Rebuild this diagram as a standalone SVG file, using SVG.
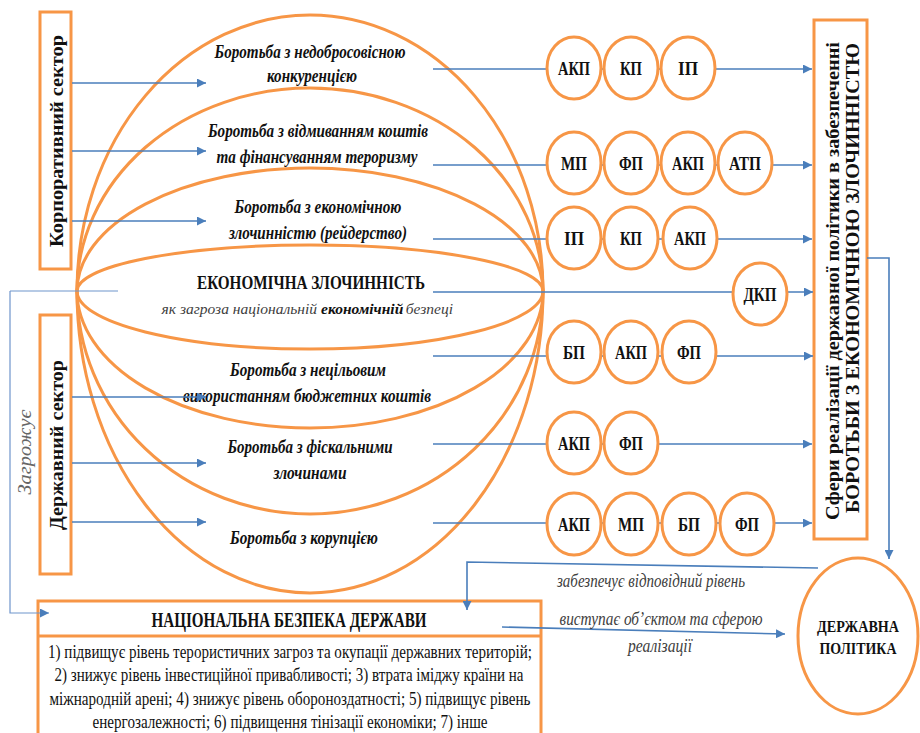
<svg xmlns="http://www.w3.org/2000/svg" width="920" height="733" viewBox="0 0 920 733" font-family="'Liberation Serif', 'Times New Roman', serif">
<style>
.arc{fill:none;stroke:#F79646;stroke-width:3}
.box{fill:#fff;stroke:#F79646;stroke-width:3}
.c{fill:#fff;stroke:#F79646;stroke-width:3}
.ln{fill:none;stroke:#4A7EBB;stroke-width:1.6}
.ln2{fill:none;stroke:#6F95CC;stroke-width:1.2}
text{font-family:"Liberation Serif","Times New Roman",serif;fill:#111}
.bi{font-weight:bold;font-style:italic;font-size:18px;text-anchor:middle}
.cb{font-weight:bold;font-size:18px;text-anchor:middle}
.it{font-style:italic;font-size:18px;text-anchor:middle;fill:#404040}
.body{font-size:18px;text-anchor:middle}
</style>
<defs>
<marker id="ah" viewBox="0 0 10 10" refX="10" refY="5" markerWidth="9" markerHeight="9" markerUnits="userSpaceOnUse" orient="auto"><path d="M0,0 L10,5 L0,10 z" fill="#4A7EBB"/></marker>
</defs>

<g id="globe">
<path class="arc" d="M77,291 A233,276 0 0 1 543,291"/>
<path class="arc" d="M77,291 A233,203 0 0 1 543,291"/>
<path class="arc" d="M77,291 A233,123 0 0 1 543,291"/>
<path class="arc" d="M77,291 A233,46 0 0 1 543,291"/>
<path class="arc" d="M77,291 A233,58 0 0 0 543,291"/>
<path class="arc" d="M77,291 A233,137 0 0 0 543,291"/>
<path class="arc" d="M77,291 A233,223 0 0 0 543,291"/>
<path class="arc" d="M77,291 A233,302 0 0 0 543,291"/>
</g>

<g id="globe-labels">
<text class="bi" x="310" y="58" textLength="191" lengthAdjust="spacingAndGlyphs">Боротьба з недобросовісною</text>
<text class="bi" x="312" y="82" textLength="90" lengthAdjust="spacingAndGlyphs">конкуренцією</text>
<text class="bi" x="318" y="137" textLength="220" lengthAdjust="spacingAndGlyphs">Боротьба з відмиванням коштів</text>
<text class="bi" x="317" y="163" textLength="201" lengthAdjust="spacingAndGlyphs">та фінансуванням тероризму</text>
<text class="bi" x="318" y="213" textLength="167" lengthAdjust="spacingAndGlyphs">Боротьба з економічною</text>
<text class="bi" x="318" y="239" textLength="178" lengthAdjust="spacingAndGlyphs">злочинністю (рейдерство)</text>
<text x="311" y="289" style="font-weight:bold;font-size:19px;text-anchor:middle" textLength="228" lengthAdjust="spacingAndGlyphs">ЕКОНОМІЧНА ЗЛОЧИННІСТЬ</text>
<text x="317" y="314" style="font-style:italic;font-size:15.5px;fill:#404040;text-anchor:end">як загроза національній</text>
<text x="321" y="314" style="font-style:italic;font-weight:bold;font-size:15.5px">економічній</text>
<text x="453" y="314" style="font-style:italic;font-size:15.5px;fill:#404040;text-anchor:end">безпеці</text>
<text class="bi" x="308" y="376" textLength="156" lengthAdjust="spacingAndGlyphs">Боротьба з нецільовим</text>
<text class="bi" x="307" y="402" textLength="248" lengthAdjust="spacingAndGlyphs">використанням бюджетних коштів</text>
<text class="bi" x="310" y="453" textLength="165" lengthAdjust="spacingAndGlyphs">Боротьба з фіскальними</text>
<text class="bi" x="310" y="479" textLength="73" lengthAdjust="spacingAndGlyphs">злочинами</text>
<text class="bi" x="304" y="544" textLength="148" lengthAdjust="spacingAndGlyphs">Боротьба з корупцією</text>
</g>

<g id="corporate-sector">
<rect class="box" x="40" y="12" width="31" height="257"/>
<text x="0" y="0" transform="translate(63,141) rotate(-90)" style="font-weight:bold;font-size:18px;text-anchor:middle" textLength="212" lengthAdjust="spacingAndGlyphs">Корпоративний сектор</text>
</g>
<g id="state-sector">
<rect class="box" x="40" y="315" width="31" height="259"/>
<text x="0" y="0" transform="translate(63,445) rotate(-90)" style="font-weight:bold;font-size:18px;text-anchor:middle" textLength="170" lengthAdjust="spacingAndGlyphs">Державний сектор</text>
</g>

<g id="spheres-box">
<rect class="box" x="814" y="20" width="53" height="519"/>
<text x="0" y="0" transform="translate(839,281) rotate(-90)" style="font-weight:bold;font-size:18px;text-anchor:middle" textLength="478" lengthAdjust="spacingAndGlyphs">Сфери реалізації державної політики в забезпеченні</text>
<text x="0" y="0" transform="translate(859,278) rotate(-90)" style="font-weight:bold;font-size:18px;text-anchor:middle" textLength="470" lengthAdjust="spacingAndGlyphs">БОРОТЬБИ З ЕКОНОМІЧНОЮ ЗЛОЧИННІСТЮ</text>
</g>

<g id="national-security">
<rect class="box" x="38" y="601" width="503" height="150"/>
<line x1="38" y1="636" x2="541" y2="636" stroke="#F79646" stroke-width="3"/>
<text x="289" y="627" style="font-weight:bold;font-size:20px;text-anchor:middle" textLength="275" lengthAdjust="spacingAndGlyphs">НАЦІОНАЛЬНА БЕЗПЕКА ДЕРЖАВИ</text>
<text class="body" x="290" y="658" textLength="484" lengthAdjust="spacingAndGlyphs">1) підвищує рівень терористичних загроз та окупації державних територій;</text>
<text class="body" x="289" y="681" textLength="469" lengthAdjust="spacingAndGlyphs">2) знижує рівень інвестиційної привабливості; 3) втрата іміджу країни на</text>
<text class="body" x="290" y="705" textLength="481" lengthAdjust="spacingAndGlyphs">міжнародній арені; 4) знижує рівень обороноздатності; 5) підвищує рівень</text>
<text class="body" x="290" y="728" textLength="395" lengthAdjust="spacingAndGlyphs">енергозалежності; 6) підвищення тінізації економіки; 7) інше</text>
</g>

<g id="connectors">
<line class="ln" x1="72" y1="83" x2="206" y2="83" marker-end="url(#ah)"/>
<line class="ln" x1="72" y1="151" x2="206" y2="151" marker-end="url(#ah)"/>
<line class="ln" x1="72" y1="221" x2="206" y2="221" marker-end="url(#ah)"/>
<line class="ln" x1="72" y1="397" x2="206" y2="397" marker-end="url(#ah)"/>
<line class="ln" x1="72" y1="463" x2="206" y2="463" marker-end="url(#ah)"/>
<line class="ln" x1="72" y1="522" x2="206" y2="522" marker-end="url(#ah)"/>
<line class="ln" x1="433" y1="69" x2="812" y2="69" marker-end="url(#ah)"/>
<line class="ln" x1="433" y1="165" x2="812" y2="165" marker-end="url(#ah)"/>
<line class="ln" x1="433" y1="239" x2="812" y2="239" marker-end="url(#ah)"/>
<line class="ln" x1="433" y1="292" x2="813" y2="292" marker-end="url(#ah)"/>
<line class="ln" x1="433" y1="356" x2="813" y2="356" marker-end="url(#ah)"/>
<line class="ln" x1="433" y1="444" x2="812" y2="444" marker-end="url(#ah)"/>
<line class="ln" x1="433" y1="523" x2="812" y2="523" marker-end="url(#ah)"/>
<line class="ln2" x1="10" y1="291" x2="118" y2="291"/>
<path class="ln2" d="M10,291 V613 H49" marker-end="url(#ah)"/>
<path class="ln" d="M867,258 H889 V559" marker-end="url(#ah)"/>
<path class="ln" d="M818,568 L467,562 V610" marker-end="url(#ah)"/>
<path class="ln" d="M502,627 L785,634" marker-end="url(#ah)"/>
<text x="0" y="0" transform="translate(31,452) rotate(-90)" style="font-style:italic;font-size:18px;text-anchor:middle;fill:#666" textLength="85" lengthAdjust="spacingAndGlyphs">Загрожує</text>
<text class="it" x="651" y="587" textLength="188" lengthAdjust="spacingAndGlyphs">забезпечує відповідний рівень</text>
<text class="it" x="661" y="625" textLength="203" lengthAdjust="spacingAndGlyphs">виступає об’єктом та сферою</text>
<text class="it" x="660" y="652" textLength="64" lengthAdjust="spacingAndGlyphs">реалізації</text>
</g>

<g id="row1">
<ellipse class="c" cx="574" cy="68" rx="27" ry="31"/><text class="cb" x="574" y="75" textLength="32" lengthAdjust="spacingAndGlyphs">АКП</text>
<ellipse class="c" cx="631" cy="68" rx="27" ry="31"/><text class="cb" x="631" y="75" textLength="22" lengthAdjust="spacingAndGlyphs">КП</text>
<ellipse class="c" cx="688" cy="68" rx="27" ry="31"/><text class="cb" x="688" y="75" textLength="20" lengthAdjust="spacingAndGlyphs">ІП</text>
</g>
<g id="row2">
<ellipse class="c" cx="574" cy="163" rx="27" ry="31"/><text class="cb" x="574" y="170" textLength="26" lengthAdjust="spacingAndGlyphs">МП</text>
<ellipse class="c" cx="631" cy="163" rx="27" ry="31"/><text class="cb" x="631" y="170" textLength="24" lengthAdjust="spacingAndGlyphs">ФП</text>
<ellipse class="c" cx="688" cy="163" rx="27" ry="31"/><text class="cb" x="688" y="170" textLength="32" lengthAdjust="spacingAndGlyphs">АКП</text>
<ellipse class="c" cx="745" cy="163" rx="27" ry="31"/><text class="cb" x="745" y="170" textLength="32" lengthAdjust="spacingAndGlyphs">АТП</text>
</g>
<g id="row3">
<ellipse class="c" cx="574" cy="238" rx="27" ry="31"/><text class="cb" x="574" y="245" textLength="20" lengthAdjust="spacingAndGlyphs">ІП</text>
<ellipse class="c" cx="631" cy="238" rx="27" ry="31"/><text class="cb" x="631" y="245" textLength="22" lengthAdjust="spacingAndGlyphs">КП</text>
<ellipse class="c" cx="690" cy="238" rx="27" ry="31"/><text class="cb" x="690" y="245" textLength="32" lengthAdjust="spacingAndGlyphs">АКП</text>
</g>
<g id="row4">
<ellipse class="c" cx="760" cy="294" rx="27" ry="31"/><text class="cb" x="760" y="301" textLength="33" lengthAdjust="spacingAndGlyphs">ДКП</text>
</g>
<g id="row5">
<ellipse class="c" cx="574" cy="352" rx="27" ry="31"/><text class="cb" x="574" y="359" textLength="22" lengthAdjust="spacingAndGlyphs">БП</text>
<ellipse class="c" cx="631" cy="352" rx="27" ry="31"/><text class="cb" x="631" y="359" textLength="32" lengthAdjust="spacingAndGlyphs">АКП</text>
<ellipse class="c" cx="689" cy="352" rx="27" ry="31"/><text class="cb" x="689" y="359" textLength="24" lengthAdjust="spacingAndGlyphs">ФП</text>
</g>
<g id="row6">
<ellipse class="c" cx="574" cy="443" rx="27" ry="31"/><text class="cb" x="574" y="450" textLength="32" lengthAdjust="spacingAndGlyphs">АКП</text>
<ellipse class="c" cx="631" cy="443" rx="27" ry="31"/><text class="cb" x="631" y="450" textLength="24" lengthAdjust="spacingAndGlyphs">ФП</text>
</g>
<g id="row7">
<ellipse class="c" cx="574" cy="524" rx="27" ry="31"/><text class="cb" x="574" y="531" textLength="32" lengthAdjust="spacingAndGlyphs">АКП</text>
<ellipse class="c" cx="631" cy="524" rx="27" ry="31"/><text class="cb" x="631" y="531" textLength="26" lengthAdjust="spacingAndGlyphs">МП</text>
<ellipse class="c" cx="689" cy="524" rx="27" ry="31"/><text class="cb" x="689" y="531" textLength="22" lengthAdjust="spacingAndGlyphs">БП</text>
<ellipse class="c" cx="747" cy="524" rx="27" ry="31"/><text class="cb" x="747" y="531" textLength="24" lengthAdjust="spacingAndGlyphs">ФП</text>
</g>

<g id="state-policy">
<ellipse class="c" cx="858" cy="636" rx="60" ry="78"/>
<text x="858" y="632" style="font-weight:bold;font-size:17px;text-anchor:middle" textLength="82" lengthAdjust="spacingAndGlyphs">ДЕРЖАВНА</text>
<text x="858" y="654" style="font-weight:bold;font-size:17px;text-anchor:middle" textLength="77" lengthAdjust="spacingAndGlyphs">ПОЛІТИКА</text>
</g>
</svg>
